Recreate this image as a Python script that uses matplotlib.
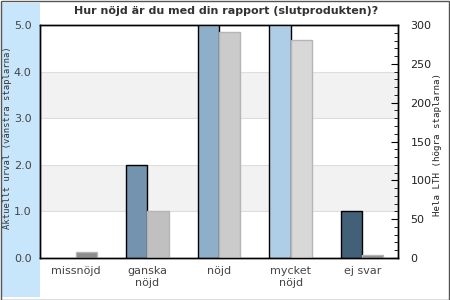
import matplotlib
matplotlib.use("Agg")
import matplotlib.pyplot as plt
from matplotlib.patches import Rectangle
from matplotlib.ticker import MultipleLocator

categories = ["missnöjd", "ganska\nnöjd", "nöjd", "mycket\nnöjd", "ej svar"]
left_values = [0, 2, 6, 6, 1]          # Aktuellt urval (clipped at 5)
right_values = [8, 60, 291, 281, 4]    # Hela LTH
left_colors = ["#5f7f9a", "#7393ae", "#8eafc9", "#aecde6", "#426078"]
right_colors = ["#8c8c8c", "#c0c0c0", "#cbcbcb", "#d8d8d8", "#8c8c8c"]
left_ticks = [0, 1, 2, 3, 4, 5]
right_ticks = [0, 50, 100, 150, 200, 250, 300]

fig = plt.figure(figsize=(4.5, 3), dpi=100)
fig.patch.set_facecolor("white")
fig.patches.append(Rectangle((2/450, 3/300), 38/450, 294/300, transform=fig.transFigure,
                             facecolor="#c8e6fb", edgecolor="none", zorder=-5))
fig.patches.append(Rectangle((0.5/450, 0.5/300), 448.5/450, 298.5/300, transform=fig.transFigure,
                             facecolor="none", edgecolor="#555555", linewidth=1, zorder=5))

ax = fig.add_axes([40/450, 42/300, 358/450, 233/300])
ax2 = ax.twinx()

x = list(range(len(categories)))
w = 0.295
ax.set_ylim(0, 5)
ax.set_xlim(-0.5, 4.5)
for yb in (1, 3):
    ax.axhspan(yb, yb + 1, color="#f2f2f2", zorder=0, linewidth=0)
for yt in left_ticks[1:-1]:
    ax.axhline(yt, color="#dddddd", linewidth=0.8, zorder=0.5)

for i, v in enumerate(left_values):
    if v > 0:
        ax.bar(i - w/2, v, width=w, color=left_colors[i],
               edgecolor="black", linewidth=1, zorder=3)
ax2.set_ylim(0, 300)
ax2.bar([i + w/2 for i in x], right_values, width=w, color=right_colors,
        edgecolor="#b5b5b5", linewidth=1, zorder=2)

ax.set_yticks(left_ticks)
ax.set_yticklabels([f"{v:.1f}" for v in left_ticks], color="#444444", fontsize=8)
ax.tick_params(axis="y", length=0, pad=6)
ax.set_xticks(x)
ax.set_xticklabels(categories, color="#444444", fontsize=8, linespacing=1.15)
ax.tick_params(axis="x", length=0, pad=6)

ax2.set_yticks(right_ticks)
ax2.set_yticklabels([str(v) for v in right_ticks], color="#222222", fontsize=8)
ax2.yaxis.set_minor_locator(MultipleLocator(10))
ax2.tick_params(axis="y", which="major", direction="in", length=5, pad=9)
ax2.tick_params(axis="y", which="minor", direction="in", length=3)

for a in (ax, ax2):
    for s in a.spines.values():
        s.set_color("black")
        s.set_linewidth(1)

fig.text(8/450, 162/300, "Aktuellt urval (vänstra staplarna)", rotation=90,
         family="DejaVu Sans Mono", fontsize=6.4, color="#333333", ha="center", va="center")
fig.text(437/450, 155/300, "Hela LTH (högra staplarna)", rotation=90,
         family="DejaVu Sans Mono", fontsize=6.6, color="#222222", ha="center", va="center")
fig.text(226/450, 289/300, "Hur nöjd är du med din rapport (slutprodukten)?",
         fontsize=8, fontweight="bold", color="#333333", ha="center", va="center")

fig.savefig("out.png", dpi=100)
